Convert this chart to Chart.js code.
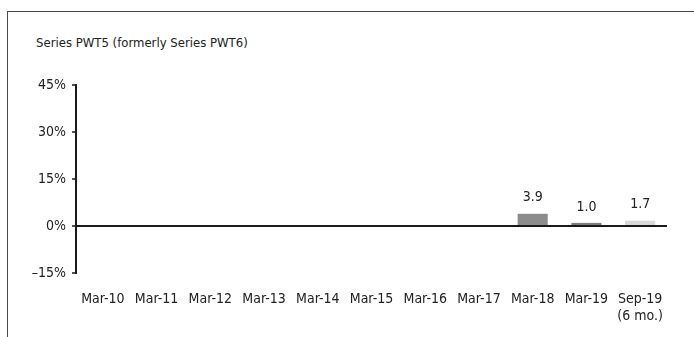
<!DOCTYPE html>
<html>
<head>
<meta charset="utf-8">
<script src="https://cdn.jsdelivr.net/npm/chart.js@4"></script>
<style>
  body { margin: 0; background: #fff; }
  #wrap { position: relative; width: 694px; height: 337px; overflow: hidden; }
  #frame {
    position: absolute; left: 7px; top: 11px; width: 700px; height: 340px;
    border-top: 1.5px solid #4a4a4a; border-left: 1.5px solid #4a4a4a;
  }
  #title {
    position: absolute; left: 36px; top: 35px;
    font: 13px "DejaVu Sans Condensed", "Liberation Sans Narrow", sans-serif;
    color: #222;
  }
  #perfChart { position: absolute; left: 0; top: 0; }
</style>
</head>
<body>
<div id="wrap">
  <div id="frame"></div>
  <div id="title">Series PWT5 (formerly Series PWT6)</div>
  <canvas id="perfChart" width="694" height="337"></canvas>
</div>
<script>
const periods = ["Mar-10", "Mar-11", "Mar-12", "Mar-13", "Mar-14", "Mar-15",
                 "Mar-16", "Mar-17", "Mar-18", "Mar-19", ["Sep-19", "(6 mo.)"]];
const returns = [null, null, null, null, null, null, null, null, 3.9, 1.0, 1.7];
const barColors = ["#8c8c8c", "#8c8c8c", "#8c8c8c", "#8c8c8c", "#8c8c8c", "#8c8c8c",
                   "#8c8c8c", "#8c8c8c", "#8c8c8c", "#7c7c7c", "#dadada"];
const yTicks = [-15, 0, 15, 30, 45];

const fontFamily = '"DejaVu Sans Condensed", "Liberation Sans Narrow", sans-serif';

// value labels above each bar
const valueLabels = {
  id: "valueLabels",
  afterDatasetsDraw(chart) {
    const ctx = chart.ctx;
    const meta = chart.getDatasetMeta(0);
    ctx.save();
    ctx.font = "14px " + fontFamily;
    ctx.fillStyle = "#222";
    ctx.textAlign = "center";
    ctx.textBaseline = "bottom";
    meta.data.forEach((bar, i) => {
      const v = returns[i];
      if (v === null) return;
      ctx.fillText(v.toFixed(1), bar.x, bar.y - 9);
    });
    ctx.restore();
  }
};

new Chart(document.getElementById("perfChart").getContext("2d"), {
  type: "bar",
  data: {
    labels: periods,
    datasets: [{
      data: returns,
      backgroundColor: barColors,
      barPercentage: 0.56,
      categoryPercentage: 1.0
    }]
  },
  options: {
    responsive: false,
    animation: false,
    layout: { padding: { top: 85, right: 27, bottom: 0, left: 0 } },
    plugins: { legend: { display: false }, tooltip: { enabled: false } },
    scales: {
      x: {
        grid: { display: false, drawTicks: false },
        border: { display: false },
        ticks: {
          color: "#222",
          font: { family: fontFamily, size: 14 },
          padding: 18,
          maxRotation: 0,
          autoSkip: false
        },
        afterFit: s => { s.height = 64; }
      },
      y: {
        min: -15,
        max: 45,
        afterBuildTicks: s => { s.ticks = yTicks.map(v => ({ value: v })); },
        grid: {
          color: c => c.tick && c.tick.value === 0 ? "#1a1a1a" : "rgba(0,0,0,0)",
          lineWidth: 2,
          drawTicks: true,
          tickLength: 4,
          tickColor: "#1a1a1a",
          tickWidth: 1.5
        },
        border: { display: true, color: "#1a1a1a", width: 2 },
        ticks: {
          color: "#222",
          font: { family: fontFamily, size: 14 },
          padding: 6,
          callback: v => (v < 0 ? "\u2013" + Math.abs(v) : v) + "%"
        },
        afterFit: s => { s.width = 76; }
      }
    }
  },
  plugins: [valueLabels]
});
</script>
</body>
</html>
